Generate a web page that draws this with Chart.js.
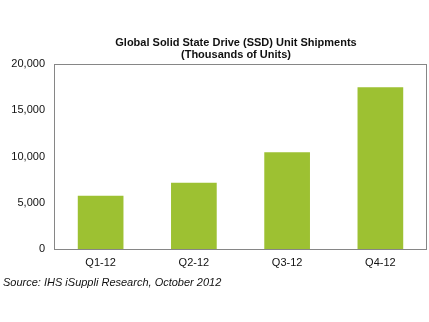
<!DOCTYPE html>
<html>
<head>
<meta charset="utf-8">
<script src="https://cdn.jsdelivr.net/npm/chart.js@4/dist/chart.umd.min.js"></script>
<style>
  html, body { margin: 0; padding: 0; background: #fff; }
  #wrap { position: absolute; left: 0; top: 0; width: 429px; height: 322px; }
  #title { position: absolute; left: 36px; width: 400px; top: 36px; text-align: center; font: bold 11px/12px "Liberation Sans", Arial, sans-serif; color: #111; }
  #source { position: absolute; left: 3px; top: 276px; font: italic 11px "Liberation Sans", Arial, sans-serif; color: #111; white-space: nowrap; }
</style>
</head>
<body>
<div id="wrap"><canvas id="c" width="429" height="322"></canvas></div>
<div id="title"></div>
<div id="source">Source: IHS iSuppli Research, October 2012</div>
<script>
const categories = ['Q1-12', 'Q2-12', 'Q3-12', 'Q4-12'];
const shipments = [5750, 7150, 10450, 17500];
const yTicks = [0, 5000, 10000, 15000, 20000];
const titleLines = ['Global Solid State Drive (SSD) Unit Shipments', '(Thousands of Units)'];

const titleEl = document.getElementById('title');
titleLines.forEach((t, i) => {
  if (i) titleEl.appendChild(document.createElement('br'));
  titleEl.appendChild(document.createTextNode(t));
});

const frame = {
  id: 'frame',
  afterDatasetsDraw(chart) {
    const a = chart.chartArea, ctx = chart.ctx;
    ctx.save();
    ctx.strokeStyle = '#868686';
    ctx.lineWidth = 1;
    ctx.strokeRect(Math.round(a.left) + 0.5, Math.round(a.top) + 0.5, Math.round(a.right - a.left) - 1, Math.round(a.bottom - a.top));
    ctx.restore();
  }
};

new Chart(document.getElementById('c'), {
  type: 'bar',
  data: {
    labels: categories,
    datasets: [{
      data: shipments,
      backgroundColor: '#9dc132',
      borderWidth: 0,
      categoryPercentage: 1,
      barPercentage: 0.49
    }]
  },
  options: {
    responsive: false,
    animation: false,
    devicePixelRatio: 1,
    layout: { padding: { left: 0, right: 2, top: 64, bottom: 0 } },
    plugins: {
      legend: { display: false },
      tooltip: { enabled: false },
      title: { display: false }
    },
    scales: {
      x: {
        grid: { display: false, drawTicks: false },
        border: { display: false },
        ticks: { color: '#111', padding: 7, font: { family: '"Liberation Sans", Arial, sans-serif', size: 11 } },
        afterFit(s) { s.height = 73; }
      },
      y: {
        min: yTicks[0], max: yTicks[yTicks.length - 1],
        grid: { display: false, drawTicks: false },
        border: { display: false },
        ticks: {
          stepSize: yTicks[1] - yTicks[0],
          color: '#111', padding: 9,
          font: { family: '"Liberation Sans", Arial, sans-serif', size: 11 },
          callback: v => Number(v).toLocaleString('en-US')
        },
        afterFit(s) { s.width = 54; }
      }
    }
  },
  plugins: [frame]
});
</script>
</body>
</html>
